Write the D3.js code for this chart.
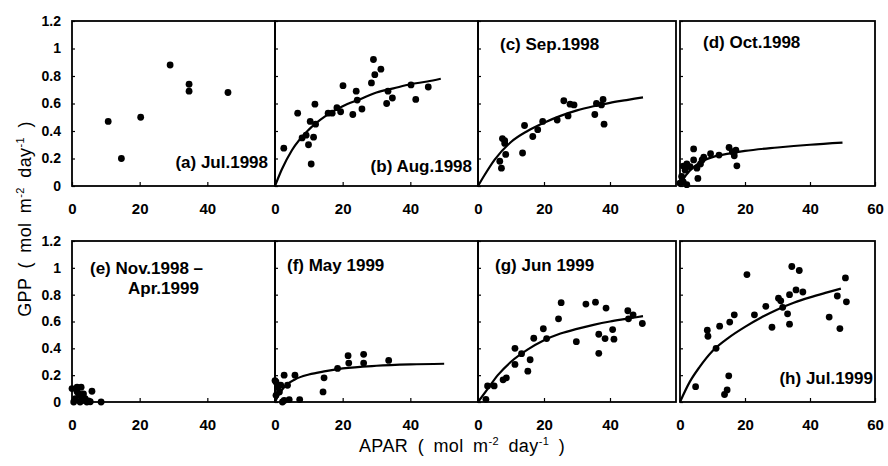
<!DOCTYPE html>
<html><head><meta charset="utf-8">
<script src="https://cdn.jsdelivr.net/npm/d3@7"></script>
<style>
body{margin:0;background:#fff;}
svg{display:block;}
text{font-family:"Liberation Sans",Arial,sans-serif;fill:#000;}
</style></head>
<body><svg id="chart" width="888" height="466"></svg>
<script>
// ---------- data ----------
const panelNames = ["(a) Jul.1998","(b) Aug.1998","(c) Sep.1998","(d) Oct.1998",
                    "(e) Nov.1998 –","(f) May 1999","(g) Jun 1999","(h) Jul.1999"];
const panelName2 = "Apr.1999";
const yTickValues = [0,0.2,0.4,0.6,0.8,1,1.2];
const yTickLabels = ["0","0.2","0.4","0.6","0.8","1","1.2"];
const xTickValues = [0,20,40];
const xTickValuesLast = [0,20,40,60];
const yTitle = ["GPP ( mol m","-2"," day","-1"," )"];
const xTitle = ["APAR ( mol m","-2"," day","-1"," )"];

const ptsA = [[10.7,0.47],[14.6,0.20],[20.3,0.50],[29,0.88],[34.6,0.74],[34.6,0.69],[46.1,0.68]];
const ptsB = [[2.6,0.275],[6.7,0.53],[8.0,0.35],[9.2,0.37],[9.9,0.30],[10.4,0.47],[11.4,0.355],[10.7,0.16],
  [11.8,0.595],[12.0,0.45],[15.7,0.53],[16.9,0.53],[18.3,0.57],[19.4,0.54],[20.1,0.73],[23.0,0.52],
  [24.0,0.69],[24.3,0.625],[25.7,0.56],[28.5,0.75],[29.1,0.92],[29.5,0.81],[31.3,0.85],[33.0,0.60],
  [34.7,0.64],[33.4,0.69],[40.2,0.735],[41.6,0.63],[45.3,0.72]];
const ptsC = [[7.1,0.13],[6.6,0.18],[7.4,0.345],[8.1,0.33],[8.1,0.31],[8.4,0.23],[13.5,0.24],[14.1,0.44],
  [16.6,0.36],[18.1,0.41],[19.6,0.47],[24.0,0.48],[26.0,0.62],[27.3,0.51],[27.9,0.595],[29.1,0.59],
  [35.4,0.52],[35.9,0.60],[37.4,0.59],[37.9,0.63],[38.2,0.45]];
const ptsD = [[4.2,0.27],[1,0.145],[2.1,0.16],[1.6,0.115],[0.5,0.07],[1,0.03],[2.1,0.01],[0,0.02],
  [3.1,0.14],[5.5,0.055],[5.2,0.13],[6.3,0.16],[7.3,0.21],[9.4,0.235],[12.0,0.225],[15.1,0.28],
  [16.1,0.25],[17.2,0.26],[17.5,0.147],[16.7,0.22],[4.2,0.19],[6.8,0.19]];
const ptsE = [[0,0.10],[1.5,0.11],[2.7,0.11],[2,0.06],[3.4,0.06],[1,0.025],[2.9,0.01],[4.9,0.008],
  [5.9,0.08],[8.6,0],[0.5,0],[2.4,0],[3.9,0.025],[1.5,0.076],[2.7,0.04],[4.4,0],[5.4,0.002]];
const ptsF = [[2.7,0.20],[5.9,0.20],[0.3,0.15],[0.8,0.11],[1.7,0.125],[1.3,0.075],[0.3,0.05],[2.7,0.012],
  [4.2,0.018],[7.3,0.018],[2.2,0],[14.2,0.075],[14.5,0.18],[18.5,0.25],[21.6,0.345],[21.8,0.29],
  [26.2,0.355],[26.2,0.29],[33.6,0.31],[0,0.16],[3.7,0.125]];
const ptsG = [[2.4,0.02],[2.9,0.12],[4.9,0.12],[7.6,0.165],[8.6,0.18],[11.2,0.28],[11.2,0.40],[13.2,0.36],
  [15.1,0.23],[15.8,0.315],[16.9,0.475],[19.8,0.546],[20.8,0.473],[24.4,0.62],[25.2,0.74],[29.8,0.45],
  [32.7,0.73],[35.6,0.744],[36.6,0.505],[36.6,0.363],[38.5,0.473],[38.8,0.70],[40.8,0.54],[41.2,0.468],
  [45.4,0.68],[45.6,0.62],[47.0,0.65],[49.8,0.585]];
const ptsH = [[4.8,0.114],[8.4,0.535],[8.6,0.49],[11.1,0.40],[12.2,0.565],[13.7,0.056],[14.5,0.09],[15.0,0.195],
  [15.3,0.596],[16.7,0.65],[20.6,0.95],[22.9,0.65],[26.4,0.713],[28.3,0.557],[30.3,0.774],[31.0,0.754],
  [31.6,0.706],[33.1,0.657],[33.7,0.58],[34.4,1.01],[33.7,0.80],[35.7,0.835],[36.7,0.98],[37.8,0.82],
  [45.9,0.633],[48.4,0.79],[49.2,0.547],[50.9,0.925],[51.2,0.747]];

const curveB = [[0,0],[2,0.12],[5,0.26],[10,0.41],[15,0.51],[20,0.58],[25,0.63],[30,0.68],[35,0.71],[40,0.74],[45,0.76],[49,0.78]];
const curveC = [[0,0],[2,0.08],[5,0.19],[10,0.32],[15,0.40],[20,0.46],[25,0.51],[30,0.55],[35,0.58],[40,0.605],[45,0.625],[50,0.645]];
const curveD = [[0,0],[1,0.05],[3,0.11],[6,0.17],[10,0.21],[15,0.235],[20,0.255],[30,0.28],[40,0.30],[50,0.315]];
const curveF = [[0,0],[1,0.05],[3,0.12],[6,0.17],[10,0.205],[15,0.23],[20,0.25],[30,0.27],[40,0.28],[50,0.285]];
const curveG = [[0,0],[3,0.1],[6,0.2],[10,0.3],[15,0.39],[20,0.46],[25,0.51],[30,0.545],[35,0.575],[40,0.60],[45,0.62],[50,0.64]];
const curveH = [[0,0],[3,0.15],[6,0.26],[10,0.38],[15,0.48],[20,0.56],[25,0.63],[30,0.69],[35,0.74],[40,0.78],[45,0.815],[49.5,0.845]];

const panelPoints = [ptsA,ptsB,ptsC,ptsD,ptsE,ptsF,ptsG,ptsH];
const panelCurves = [null,curveB,curveC,curveD,null,curveF,curveG,curveH];

// ---------- layout ----------
const colX = [72,275,478,680];
const colW = [203,203,198,195];
const rowY = [21,241];
const rowH = [165,161];
const labelPos = [[268,168,"end"],[472,172,"end"],[500,50,"start"],[703,48,"start"],
                  [90,274,"start"],[287,271,"start"],[495,271,"start"],[873,384,"end"]];
const label2Pos = [128,294];

const svg = d3.select("#chart");

for (let i=0;i<8;i++){
  const r = Math.floor(i/4), c = i%4;
  const x = d3.scaleLinear().domain([0,60]).range([0,colW[c]]);
  const y = d3.scaleLinear().domain([0,1.2]).range([rowH[r],0]);
  const g = svg.append("g").attr("transform",`translate(${colX[c]},${rowY[r]})`);

  const ya = d3.axisLeft(y).tickValues(yTickValues).tickSize(-3).tickPadding(11)
    .tickFormat((d,k)=> c===0 ? yTickLabels[k] : "");
  const yg = g.append("g").call(ya);
  yg.select(".domain").remove();
  yg.selectAll("text").style("font-size","14px").style("font-weight","bold");

  const xa = d3.axisBottom(x).tickValues(c===3?xTickValuesLast:xTickValues).tickSize(-4).tickPadding(17);
  const xg = g.append("g").attr("transform",`translate(0,${rowH[r]})`).call(xa);
  xg.select(".domain").remove();
  xg.selectAll("text").style("font-size","15px").style("font-weight","bold");
  g.selectAll(".tick line").attr("stroke","#000").attr("stroke-width",1.2);

  g.append("rect").attr("x",0).attr("y",0).attr("width",colW[c]).attr("height",rowH[r])
    .attr("fill","none").attr("stroke","#000").attr("stroke-width",1.8);

  if (panelCurves[i]){
    g.append("path").datum(panelCurves[i])
      .attr("d", d3.line().x(d=>x(d[0])).y(d=>y(d[1])).curve(d3.curveMonotoneX))
      .attr("fill","none").attr("stroke","#000").attr("stroke-width",2.2);
  }
  g.selectAll("circle.p").data(panelPoints[i]).join("circle")
    .attr("class","p").attr("cx",d=>x(d[0])).attr("cy",d=>y(d[1])).attr("r",3.4).attr("fill","#000");

  svg.append("text").attr("x",labelPos[i][0]).attr("y",labelPos[i][1]).attr("text-anchor",labelPos[i][2])
    .style("font-size","17px").style("font-weight","bold").text(panelNames[i]);
}
svg.append("text").attr("x",label2Pos[0]).attr("y",label2Pos[1])
  .style("font-size","17px").style("font-weight","bold").text(panelName2);

function addTitle(parts){
  const t = svg.append("text").style("font-size","18px").attr("text-anchor","middle")
    .style("word-spacing","4px").style("letter-spacing","0.4px");
  parts.forEach((p,k)=>{
    const sup = k%2===1;
    t.append("tspan").text(p)
      .attr("dy", sup ? "-7px" : (k>0 ? "7px" : null))
      .style("font-size", sup ? "11px" : null);
  });
  return t;
}
addTitle(yTitle).attr("transform","translate(31,219) rotate(-90)");
addTitle(xTitle).attr("x",462).attr("y",452);
</script></body></html>
